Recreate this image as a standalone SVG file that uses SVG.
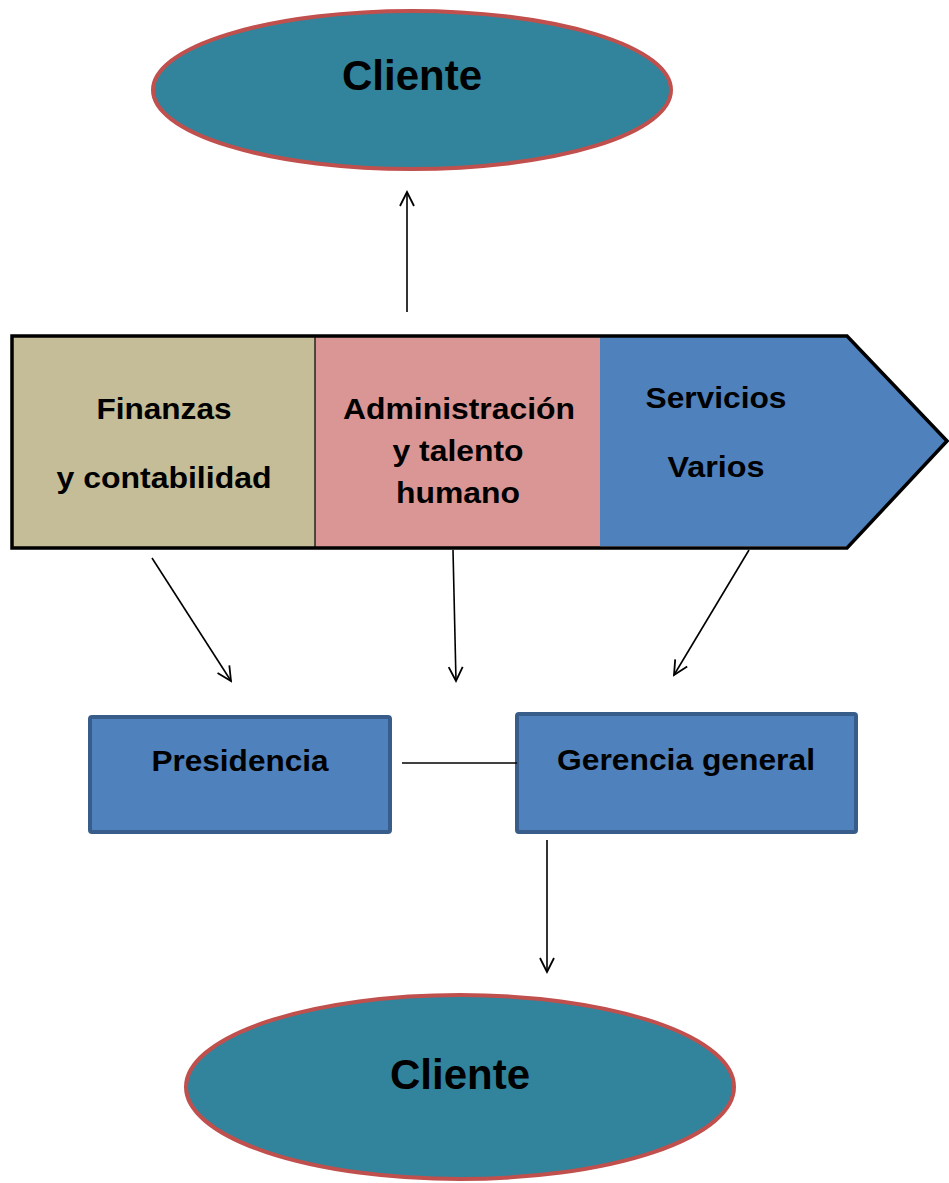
<svg xmlns="http://www.w3.org/2000/svg" width="949" height="1183" viewBox="0 0 949 1183">
<defs>
<style>
.t{font-family:"Liberation Sans",Arial,sans-serif;font-weight:bold;fill:#000;text-anchor:middle}
.lbl{font-size:30px}
.cl{font-size:42px}
.ell{fill:#31849B;stroke:#C0504D;stroke-width:4}
.box{fill:#4F81BD;stroke:#385D8A;stroke-width:4}
.con{stroke:#000;stroke-width:1.6;fill:none}
</style>
<marker id="ah" markerUnits="userSpaceOnUse" markerWidth="22" markerHeight="22" refX="16" refY="9" orient="auto">
<path d="M2,2 L16,9 L2,16" fill="none" stroke="#000" stroke-width="1.8"/>
</marker>
</defs>
<rect width="949" height="1183" fill="#fff"/>
<g id="cliente-top">
<ellipse class="ell" cx="412" cy="90" rx="259" ry="79"/>
<text class="t cl" x="412" y="90">Cliente</text>
</g>
<g id="band">
<rect x="12" y="336" width="303" height="212" fill="#C4BD97"/>
<rect x="315" y="336" width="285" height="212" fill="#D99694"/>
<path d="M600,336 L847,336 L947,441 L847,546 L600,546 Z" fill="#4F81BD"/>
<line x1="315" y1="336" x2="315" y2="548" stroke="#000" stroke-width="1.2"/>
<path d="M12,336 L847,336 L947,441 L847,548 L12,548 Z" fill="none" stroke="#000" stroke-width="3.5" stroke-linejoin="miter"/>
</g>
<g id="finanzas">
<text class="t lbl" x="164" y="419" textLength="135" lengthAdjust="spacingAndGlyphs">Finanzas</text>
<text class="t lbl" x="164" y="488" textLength="215" lengthAdjust="spacingAndGlyphs">y contabilidad</text>
</g>
<g id="administracion">
<text class="t lbl" x="459" y="419" textLength="232" lengthAdjust="spacingAndGlyphs">Administración</text>
<text class="t lbl" x="458" y="461" textLength="131" lengthAdjust="spacingAndGlyphs">y talento</text>
<text class="t lbl" x="458" y="503" textLength="124" lengthAdjust="spacingAndGlyphs">humano</text>
</g>
<g id="servicios">
<text class="t lbl" x="716" y="408" textLength="141" lengthAdjust="spacingAndGlyphs">Servicios</text>
<text class="t lbl" x="716" y="477" textLength="97" lengthAdjust="spacingAndGlyphs">Varios</text>
</g>
<g id="presidencia">
<rect class="box" x="90" y="717" width="300" height="115" rx="2"/>
<text class="t lbl" x="240" y="771" textLength="177" lengthAdjust="spacingAndGlyphs">Presidencia</text>
</g>
<g id="gerencia">
<rect class="box" x="517" y="714" width="339" height="118" rx="2"/>
<text class="t lbl" x="686" y="770" textLength="258" lengthAdjust="spacingAndGlyphs">Gerencia general</text>
</g>
<g id="cliente-bottom">
<ellipse class="ell" cx="460" cy="1087" rx="274" ry="92"/>
<text class="t cl" x="460" y="1089">Cliente</text>
</g>
<g id="connectors">
<line class="con" x1="407" y1="312" x2="407" y2="192" marker-end="url(#ah)"/>
<line class="con" x1="152" y1="558" x2="231" y2="681" marker-end="url(#ah)"/>
<line class="con" x1="453" y1="550" x2="456" y2="681" marker-end="url(#ah)"/>
<line class="con" x1="749" y1="550" x2="674" y2="675" marker-end="url(#ah)"/>
<line class="con" x1="402" y1="763" x2="517" y2="763"/>
<line class="con" x1="547" y1="840" x2="547" y2="972" marker-end="url(#ah)"/>
</g>
</svg>
